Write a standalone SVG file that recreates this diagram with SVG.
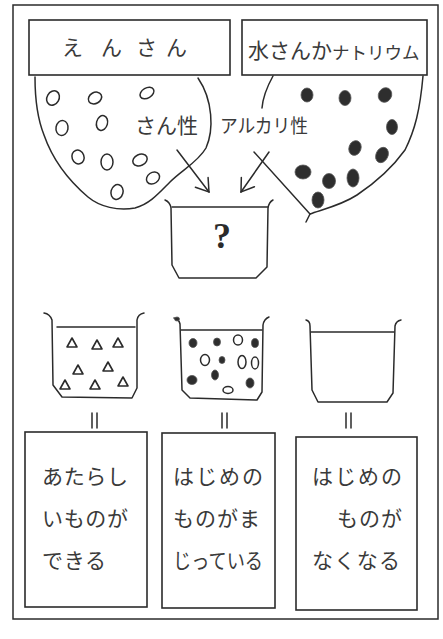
<svg xmlns="http://www.w3.org/2000/svg" xmlns:xlink="http://www.w3.org/1999/xlink" width="443" height="639" viewBox="0 0 443 639">
  <style>
    .ln { fill: none; stroke: #2b2b2b; stroke-width: 1.5; stroke-linecap: round; stroke-linejoin: round; }
    .box { fill: #ffffff; stroke: #2b2b2b; stroke-width: 1.6; }
    .txt { font-family: "Noto Sans CJK JP", "Noto Sans CJK SC", sans-serif; font-weight: 400; fill: #3a3a3a; }
    .ring { fill: none; stroke: #2b2b2b; stroke-width: 1.5; }
    .dot { fill: #2e2e2e; stroke: #555555; stroke-width: 0.8; }
  </style>
  <defs>
    <marker id="vhead" markerUnits="userSpaceOnUse" markerWidth="20" markerHeight="20" viewBox="-14 -10 16 20" refX="0" refY="0" orient="auto">
      <path d="M-12,-8 L0,0 L-12,8" fill="none" stroke="#2b2b2b" stroke-width="1.5" stroke-linecap="round"/>
    </marker>
    <path id="tri" d="M-5,4 L0,-5 L5,4 Z" fill="none" stroke="#2b2b2b" stroke-width="1.6" stroke-linejoin="round"/>
  </defs>

  <rect width="443" height="639" fill="#ffffff"/>

  <!-- outer frame -->
  <rect x="13" y="5" width="425" height="614" fill="none" stroke="#2b2b2b" stroke-width="1.5"/>

  <!-- hydrochloric acid: label and its region of particles -->
  <g id="acid">
    <path class="ln" d="M35,77 C35,100 38,120 44,135 C52,158 68,180 88,197 C100,207 118,211 135,208 C150,204 160,192 170,182 C182,170 198,162 206,148 C214,130 213,100 198,78"/>
    <g>
      <ellipse class="ring" cx="53" cy="98" rx="6" ry="7.5" transform="rotate(30 53 98)"/>
      <ellipse class="ring" cx="95" cy="98" rx="7" ry="5.5" transform="rotate(-30 95 98)"/>
      <ellipse class="ring" cx="147" cy="93" rx="7.5" ry="5" transform="rotate(-30 147 93)"/>
      <ellipse class="ring" cx="62" cy="128" rx="6" ry="7.5" transform="rotate(10 62 128)"/>
      <ellipse class="ring" cx="102" cy="123" rx="5.5" ry="7.5" transform="rotate(15 102 123)"/>
      <ellipse class="ring" cx="78" cy="157" rx="6" ry="7" transform="rotate(-20 78 157)"/>
      <ellipse class="ring" cx="107" cy="162" rx="6" ry="8"/>
      <ellipse class="ring" cx="140" cy="160" rx="7.5" ry="5.5" transform="rotate(-25 140 160)"/>
      <ellipse class="ring" cx="153" cy="178" rx="7" ry="5.5" transform="rotate(-35 153 178)"/>
      <ellipse class="ring" cx="117" cy="192" rx="6" ry="7.5" transform="rotate(15 117 192)"/>
    </g>
    <text class="txt" x="135" y="133" font-size="21">さん性</text>
  </g>
  <g id="label-acid">
    <rect class="box" x="29" y="20" width="201" height="55"/>
    <text class="txt" font-size="21" y="55" x="62 101 136 166">えんさん</text>
  </g>

  <!-- sodium hydroxide: label and its region of particles -->
  <g id="base">
    <path class="ln" d="M273,76 C268,85 263,96 262,108"/>
    <path class="ln" d="M254,152 C270,170 290,192 310,214 C320,210 340,206 357,195 C375,183 392,168 405,150 C415,130 420,110 423,76"/>
    <path class="ln" d="M310,214 L306,222"/>
    <g>
      <ellipse class="dot" cx="307" cy="95" rx="6" ry="7"/>
      <ellipse class="dot" cx="345" cy="98" rx="6" ry="7.5"/>
      <ellipse class="dot" cx="385" cy="95" rx="6.5" ry="7.5" transform="rotate(30 385 95)"/>
      <ellipse class="dot" cx="392" cy="127" rx="5.5" ry="7.5"/>
      <ellipse class="dot" cx="355" cy="148" rx="6" ry="7.5" transform="rotate(20 355 148)"/>
      <ellipse class="dot" cx="382" cy="155" rx="6" ry="8" transform="rotate(25 382 155)"/>
      <ellipse class="dot" cx="303" cy="172" rx="8" ry="7"/>
      <ellipse class="dot" cx="329" cy="181" rx="6.5" ry="7.5"/>
      <ellipse class="dot" cx="353" cy="178" rx="6" ry="9"/>
      <ellipse class="dot" cx="318" cy="200" rx="6" ry="8"/>
    </g>
    <text class="txt" x="220" y="133" font-size="19" textLength="88" lengthAdjust="spacingAndGlyphs">アルカリ性</text>
  </g>
  <g id="label-base">
    <rect class="box" x="242" y="20" width="185" height="55"/>
    <text class="txt" x="248" y="58" font-size="21">水さんか<tspan font-size="17.5" y="59">ナトリウム</tspan></text>
  </g>

  <!-- mixing beaker -->
  <g id="beaker-mix">
    <path class="ln" d="M165,200 Q170,202 171,208 L172,265 L179,278 L256,278 L267,267 L268,208 Q269,202 273,200"/>
    <path class="ln" d="M172,207 L268,207"/>
    <text x="222" y="248" font-family="Liberation Serif, serif" font-size="36" font-weight="bold" text-anchor="middle" fill="#2b2b2b">?</text>
  </g>

  <!-- beaker 1: new substance -->
  <g id="beaker-1">
    <path class="ln" d="M44,313 Q50,314 52,320 L53,385 L62,397 L132,398 L137,388 L137,320 Q138,314 144,313"/>
    <path class="ln" d="M57,327 L135,327"/>
    <use xlink:href="#tri" x="72" y="343"/>
    <use xlink:href="#tri" x="97" y="345"/>
    <use xlink:href="#tri" x="118" y="343"/>
    <use xlink:href="#tri" x="78" y="370"/>
    <use xlink:href="#tri" x="108" y="367"/>
    <use xlink:href="#tri" x="65" y="385"/>
    <use xlink:href="#tri" x="95" y="385"/>
    <use xlink:href="#tri" x="123" y="382"/>
  </g>

  <!-- beaker 2: both substances mixed -->
  <g id="beaker-2">
    <path class="ln" d="M174,318 Q179,319 180,324 L182,390 L190,398 L257,400 L262,392 L263,325 Q264,319 269,317"/>
    <path class="ln" d="M181,330 L262,330"/>
    <ellipse class="dot" cx="177" cy="319" rx="2.5" ry="2"/>
    <ellipse class="dot" cx="193" cy="343" rx="4" ry="4.5"/>
    <ellipse class="dot" cx="217" cy="342" rx="3.5" ry="4"/>
    <ellipse class="dot" cx="255" cy="343" rx="3.5" ry="4.5"/>
    <ellipse class="dot" cx="222" cy="360" rx="3" ry="3.5"/>
    <ellipse class="dot" cx="192" cy="380" rx="5" ry="4.5"/>
    <ellipse class="dot" cx="215" cy="375" rx="3.5" ry="5"/>
    <ellipse class="dot" cx="250" cy="383" rx="4" ry="5"/>
    <ellipse class="ring" cx="238" cy="340" rx="4.5" ry="5" stroke-width="1.2"/>
    <ellipse class="ring" cx="205" cy="360" rx="4.5" ry="5.5" stroke-width="1.2"/>
    <ellipse class="ring" cx="242" cy="362" rx="4" ry="6.5" stroke-width="1.2"/>
    <ellipse class="ring" cx="255" cy="363" rx="3.5" ry="6" stroke-width="1.2"/>
    <ellipse class="ring" cx="228" cy="390" rx="5" ry="3.5" stroke-width="1.2"/>
  </g>

  <!-- beaker 3: empty solution -->
  <g id="beaker-3">
    <path class="ln" d="M306,320 Q310,321 310,326 L312,390 L318,402 L387,402 L393,393 L395,326 Q396,321 401,320"/>
    <path class="ln" d="M311,332 L394,332"/>
  </g>

  <!-- arrows and equality marks -->
  <g id="connectors">
    <path class="ln" d="M177,150 L209,192" marker-end="url(#vhead)"/>
    <path class="ln" d="M269,152 L241,192" marker-end="url(#vhead)"/>
    <path class="ln" d="M92,413 L92,428 M97,413 L97,428"/>
    <path class="ln" d="M222,413 L222,428 M227,413 L227,428"/>
    <path class="ln" d="M346,413 L346,428 M351,413 L351,428"/>
  </g>

  <!-- result boxes -->
  <g id="result-1">
    <rect class="box" x="25" y="432" width="122" height="175"/>
    <text class="txt" font-size="21">
      <tspan x="42" y="484" textLength="86" lengthAdjust="spacing">あたらし</tspan>
      <tspan x="42" y="526" textLength="86" lengthAdjust="spacing">いものが</tspan>
      <tspan x="42" y="568" textLength="64" lengthAdjust="spacing">できる</tspan>
    </text>
  </g>
  <g id="result-2">
    <rect class="box" x="162" y="433" width="113" height="175"/>
    <text class="txt" font-size="21">
      <tspan x="173" y="484" textLength="90" lengthAdjust="spacing">はじめの</tspan>
      <tspan x="173" y="526" textLength="87" lengthAdjust="spacing">ものがま</tspan>
      <tspan x="173" y="568" textLength="90" lengthAdjust="spacingAndGlyphs">じっている</tspan>
    </text>
  </g>
  <g id="result-3">
    <rect class="box" x="296" y="437" width="121" height="173"/>
    <text class="txt" font-size="21">
      <tspan x="312" y="484" textLength="90" lengthAdjust="spacing">はじめの</tspan>
      <tspan x="337" y="526" textLength="65" lengthAdjust="spacing">ものが</tspan>
      <tspan x="312" y="568" textLength="88" lengthAdjust="spacing">なくなる</tspan>
    </text>
  </g>
</svg>
